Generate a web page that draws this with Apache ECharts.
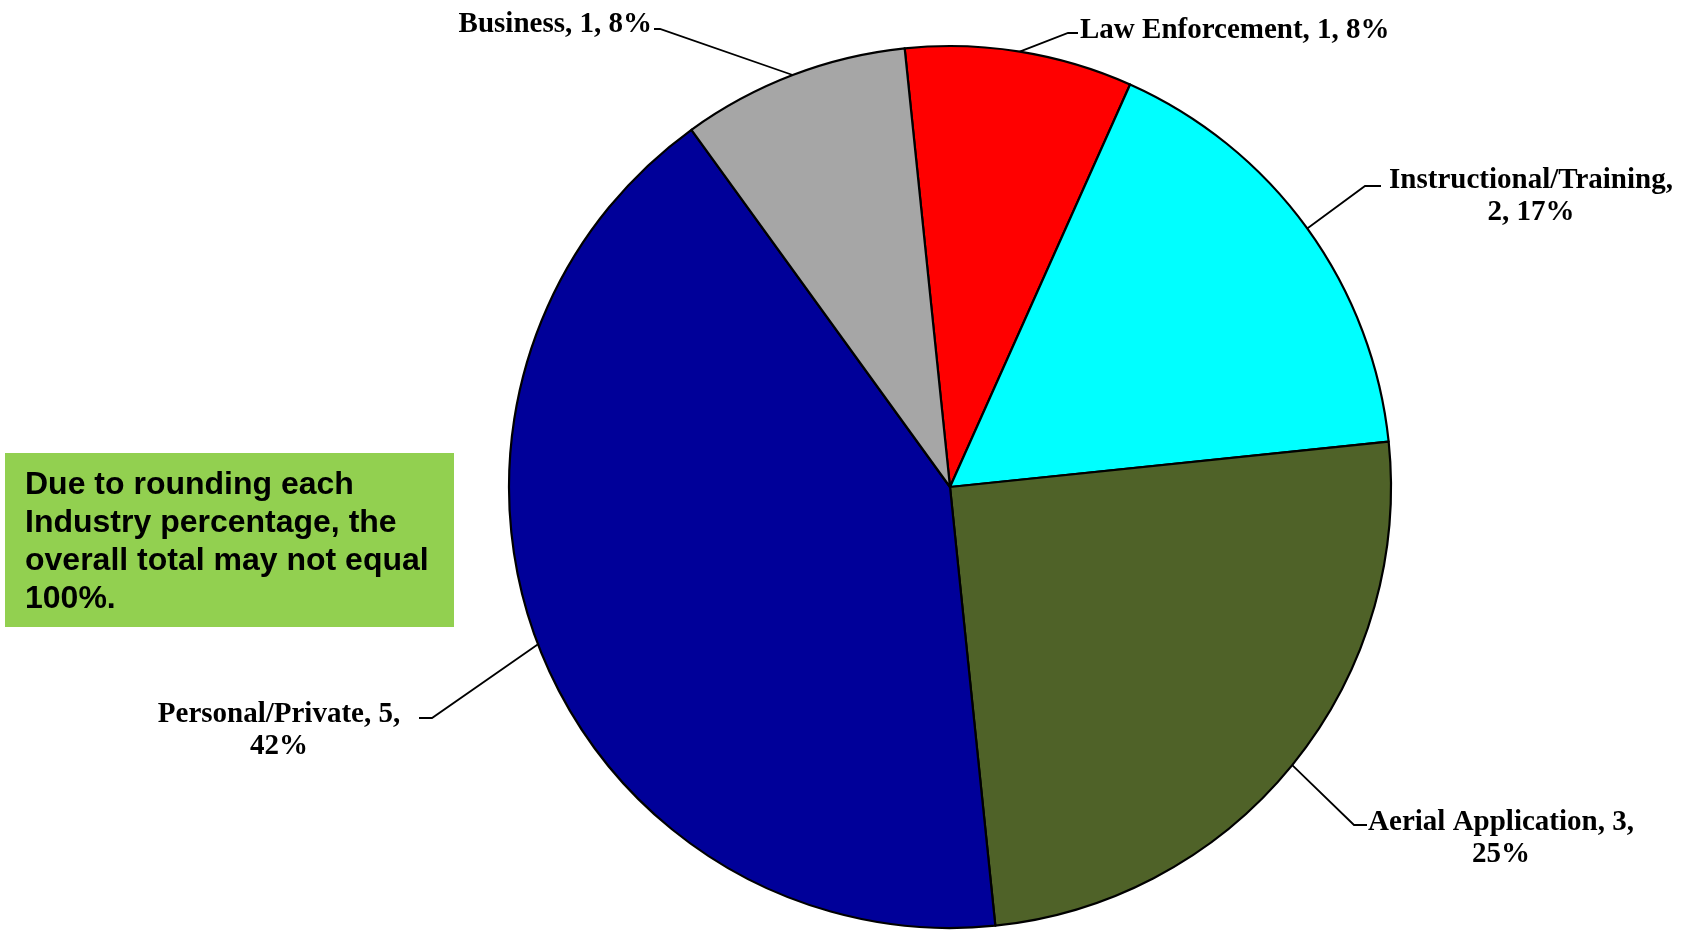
<!DOCTYPE html>
<html>
<head>
<meta charset="utf-8">
<script src="https://cdn.jsdelivr.net/npm/echarts@6/dist/echarts.min.js"></script>
<style>
html,body{margin:0;padding:0;background:#fff;}
#chart{width:1692px;height:930px;}
</style>
</head>
<body>
<div id="chart"></div>
<script>
// ---- data ----
var categories = ['Law Enforcement', 'Instructional/Training', 'Aerial Application', 'Personal/Private', 'Business'];
var counts = [1, 2, 3, 5, 1];
var sliceColors = ['#FF0000', '#00FFFF', '#4F6228', '#000099', '#A6A6A6'];
var noteText = 'Due to rounding each\nIndustry percentage, the\noverall total may not equal\n100%.';

// ---- label layout (pixels) ----
// where each label sits, how it wraps, and the elbow of its leader line
var labelPlacement = [
  { x: 1080, y: 31,  align: 'left',   wrap: null,    elbow: [1068, 33], end: [1078, 33] },
  { x: 1531, y: 197, align: 'center', wrap: 'name',  elbow: [1365, 186], end: [1381, 186] },
  { x: 1501, y: 839, align: 'center', wrap: 'value', elbow: [1354, 825], end: [1367, 825] },
  { x: 279,  y: 731, align: 'center', wrap: 'value', elbow: [432, 718], end: [419, 718] },
  { x: 652,  y: 25,  align: 'right',  wrap: null,    elbow: [660, 29], end: [654, 29] }
];

var chart = echarts.init(document.getElementById('chart'));
var seriesData = categories.map(function (c, i) {
  return { name: c, value: counts[i], itemStyle: { color: sliceColors[i] } };
});

chart.setOption({
  animation: false,
  backgroundColor: '#ffffff',
  series: [{
    type: 'pie',
    center: [950, 487],
    radius: 441,
    startAngle: 95.9,
    clockwise: true,
    avoidLabelOverlap: false,
    data: seriesData,
    itemStyle: { borderColor: '#000000', borderWidth: 2.2 },
    emphasis: { disabled: true },
    label: {
      show: true,
      position: 'outside',
      fontFamily: '"Liberation Serif", "DejaVu Serif", serif',
      fontWeight: 'bold',
      fontSize: 29,
      lineHeight: 32,
      color: '#000000',
      formatter: function (p) {
        var pct = Math.round(p.percent) + '%';
        var w = labelPlacement[p.dataIndex].wrap;
        if (w === 'name') return p.name + ',\n' + p.value + ', ' + pct;
        if (w === 'value') return p.name + ', ' + p.value + ',\n' + pct;
        return p.name + ', ' + p.value + ', ' + pct;
      }
    },
    labelLine: {
      show: true,
      length: 20,
      length2: 10,
      lineStyle: { color: '#000000', width: 1.8 }
    },
    labelLayout: function (params) {
      var L = labelPlacement[params.dataIndex];
      var anchor = params.labelLinePoints ? params.labelLinePoints[0] : L.elbow;
      return {
        x: L.x,
        y: L.y,
        align: L.align,
        verticalAlign: 'middle',
        labelLinePoints: [anchor, L.elbow, L.end]
      };
    }
  }],
  graphic: [
    {
      type: 'rect',
      shape: { x: 5, y: 453, width: 449, height: 174 },
      style: { fill: '#92D050' },
      silent: true
    },
    {
      type: 'text',
      x: 25,
      y: 466,
      style: {
        text: noteText,
        fontFamily: '"Liberation Sans", Arial, sans-serif',
        fontWeight: 'bold',
        fontSize: 32,
        lineHeight: 38,
        fill: '#000000',
        align: 'left',
        verticalAlign: 'top'
      },
      silent: true
    }
  ]
});
</script>
</body>
</html>
